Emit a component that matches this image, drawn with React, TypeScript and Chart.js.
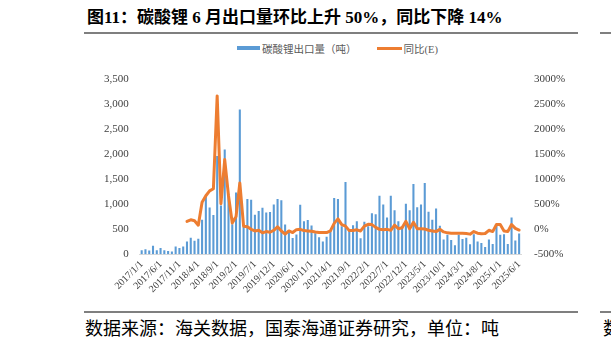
import React, { useEffect, useRef } from "react";
import { Chart, registerables } from "chart.js";

Chart.register(...registerables);

const months = [
  "2017/1/1", "2017/2/1", "2017/3/1", "2017/4/1", "2017/5/1", "2017/6/1", "2017/7/1", "2017/8/1", "2017/9/1", "2017/10/1", "2017/11/1", "2017/12/1",
  "2018/1/1", "2018/2/1", "2018/3/1", "2018/4/1", "2018/5/1", "2018/6/1", "2018/7/1", "2018/8/1", "2018/9/1", "2018/10/1", "2018/11/1", "2018/12/1",
  "2019/1/1", "2019/2/1", "2019/3/1", "2019/4/1", "2019/5/1", "2019/6/1", "2019/7/1", "2019/8/1", "2019/9/1", "2019/10/1", "2019/11/1", "2019/12/1",
  "2020/2/1", "2020/3/1", "2020/4/1", "2020/5/1", "2020/6/1", "2020/7/1", "2020/8/1", "2020/9/1", "2020/10/1", "2020/11/1", "2020/12/1",
  "2021/1/1", "2021/2/1", "2021/3/1", "2021/4/1", "2021/5/1", "2021/6/1", "2021/7/1", "2021/8/1", "2021/9/1", "2021/10/1", "2021/11/1", "2021/12/1",
  "2022/1/1", "2022/2/1", "2022/3/1", "2022/4/1", "2022/5/1", "2022/6/1", "2022/7/1", "2022/8/1", "2022/9/1", "2022/10/1", "2022/11/1", "2022/12/1",
  "2023/1/1", "2023/2/1", "2023/3/1", "2023/4/1", "2023/5/1", "2023/6/1", "2023/7/1", "2023/8/1", "2023/9/1", "2023/10/1", "2023/11/1", "2023/12/1",
  "2024/1/1", "2024/2/1", "2024/3/1", "2024/4/1", "2024/5/1", "2024/6/1", "2024/7/1", "2024/8/1", "2024/9/1", "2024/10/1", "2024/11/1", "2024/12/1",
  "2025/1/1", "2025/2/1", "2025/3/1", "2025/4/1", "2025/5/1", "2025/6/1",
];

// 碳酸锂出口量（吨）
const exportVolume = [
  83, 103, 77, 173, 83, 128, 83, 64, 58, 154, 128, 154,
  256, 333, 269, 314, 692, 1150, 936, 788, 1970, 980, 2100, 1200,
  600, 1240, 2900, 550, 1110, 1095, 790, 865, 935, 835, 845, 1000,
  1110, 1085, 595, 470, 325, 395, 995, 660, 685, 575, 420,
  340, 255, 352, 470, 1128, 1109, 560, 1450, 468, 583, 660, 320,
  650, 564, 820, 801, 1173, 1000, 737, 1173, 885, 660, 560, 1013,
  885, 1410, 942, 1000, 1430, 853, 692, 917, 570, 295, 391, 288,
  180, 391, 308, 333, 199, 404, 256, 224, 147, 295, 205, 577,
  391, 404, 205, 737, 276, 417,
];

// 同比(E), %
const yoyPct = [
  null, null, null, null, null, null, null, null, null, null, null, null,
  160, 192, 173, 83, 545, 673, 770, 814, 2673, 513, 1397, 673,
  128, 256, 929, 64, 51, 0, -32, -19, -70, -45, -58, -19,
  51, -32, -96, -32, -64, -6, 0, -25, -32, -40, -55,
  -64, -64, -64, -32, 120, 210, 95, 65, -25, -25, -10, -32,
  65, 100, 95, 40, 0, -6, 0, -19, 83, 13, 32, 160,
  13, 141, 13, 13, 6, -19, -32, -45, 0, -51, -70, -77,
  -77, -77, -77, -83, -96, -45, -77, -90, -83, -19, -45, 96,
  96, -32, -45, 96, 19, -14,
];

const titleText = "图11：碳酸锂 6 月出口量环比上升 50%，同比下降 14%";
const sourceText = "数据来源：海关数据，国泰海通证券研究，单位：吨";
const barLabel = "碳酸锂出口量（吨）";
const lineLabel = "同比(E)";

const tickFont = { family: "'Liberation Serif', 'DejaVu Serif', serif", size: 11 };

export default function App() {
  const ref = useRef<HTMLCanvasElement>(null);

  useEffect(() => {
    const chart = new Chart(ref.current as HTMLCanvasElement, {
      type: "bar",
      data: {
        labels: months,
        datasets: [
          {
            type: "line",
            label: lineLabel,
            data: yoyPct,
            yAxisID: "y1",
            borderColor: "#ED7D31",
            backgroundColor: "#ED7D31",
            borderWidth: 3,
            pointRadius: 0,
            tension: 0,
            borderJoinStyle: "round",
            borderCapStyle: "round",
            spanGaps: false,
            order: 0,
          } as any,
          {
            type: "bar",
            label: barLabel,
            data: exportVolume,
            yAxisID: "y",
            backgroundColor: "#5B9BD5",
            barPercentage: 0.55,
            categoryPercentage: 1,
            order: 1,
          } as any,
        ],
      },
      options: {
        animation: false,
        responsive: false,
        maintainAspectRatio: false,
        layout: { padding: { top: 12, left: 0, right: 0, bottom: 0 } },
        plugins: { legend: { display: false }, tooltip: { enabled: false } },
        scales: {
          x: {
            grid: { display: false, drawTicks: false },
            border: { display: true, color: "#d9d9d9", width: 1 },
            ticks: {
              autoSkip: false,
              maxRotation: 45,
              minRotation: 45,
              padding: 4,
              color: "#404040",
              font: { family: tickFont.family, size: 10 },
              callback: (_v: any, i: number) => (i % 5 === 0 ? months[i] : ""),
            },
            afterFit: (s: any) => {
              s.height = 55.7;
            },
          },
          y: {
            position: "left",
            min: 0,
            max: 3500,
            grid: { display: false, drawTicks: false },
            border: { display: false },
            ticks: {
              stepSize: 500,
              padding: 11,
              color: "#404040",
              font: tickFont,
              callback: (v: any) => Number(v).toLocaleString("en-US"),
            },
            afterFit: (s: any) => {
              s.width = 139.8;
            },
          },
          y1: {
            position: "right",
            min: -500,
            max: 3000,
            grid: { display: false, drawTicks: false },
            border: { display: false },
            ticks: {
              stepSize: 500,
              padding: 13,
              color: "#404040",
              font: tickFont,
              callback: (v: any) => v + "%",
            },
            afterFit: (s: any) => {
              s.width = 90;
            },
          },
        },
      } as any,
    });
    return () => chart.destroy();
  }, []);

  const cjk = "'Liberation Serif', 'Noto Sans CJK SC', serif";

  return (
    <div
      style={{
        position: "fixed",
        left: 0,
        top: 0,
        width: 611,
        height: 344,
        overflow: "hidden",
        background: "#fff",
      }}
    >
      <div
        style={{
          position: "absolute",
          left: 87,
          top: 7,
          height: 22,
          lineHeight: "22px",
          fontSize: 17,
          fontWeight: "bold",
          fontFamily: cjk,
          color: "#000",
          whiteSpace: "nowrap",
        }}
      >
        {titleText}
      </div>
      <div style={{ position: "absolute", left: 84, top: 32, width: 494, height: 2, background: "#7f7f7f" }} />
      <div style={{ position: "absolute", left: 600, top: 32, width: 11, height: 2, background: "#7f7f7f" }} />

      <div
        style={{
          position: "absolute",
          left: 237,
          top: 40,
          height: 16,
          display: "flex",
          alignItems: "center",
          fontFamily: cjk,
          fontSize: 10.5,
          color: "#595959",
          whiteSpace: "nowrap",
        }}
      >
        <span style={{ display: "inline-block", width: 23, height: 4, background: "#5B9BD5", marginRight: 2 }} />
        <span>{barLabel}</span>
        <span style={{ display: "inline-block", width: 25, height: 3, background: "#ED7D31", marginLeft: 20, marginRight: 2 }} />
        <span>{lineLabel}</span>
      </div>

      <canvas
        ref={ref}
        width={611}
        height={250}
        style={{ position: "absolute", left: 0, top: 60, width: 611, height: 250, display: "block" }}
      />

      <div style={{ position: "absolute", left: 84, top: 311, width: 494, height: 2, background: "#7f7f7f" }} />
      <div style={{ position: "absolute", left: 600, top: 311, width: 11, height: 2, background: "#7f7f7f" }} />
      <div
        style={{
          position: "absolute",
          left: 85,
          top: 316,
          height: 22,
          lineHeight: "22px",
          fontSize: 18,
          fontFamily: "'Noto Sans CJK SC', sans-serif",
          color: "#000",
          whiteSpace: "nowrap",
        }}
      >
        {sourceText}
      </div>
      <div
        style={{
          position: "absolute",
          left: 603,
          top: 316,
          height: 22,
          lineHeight: "22px",
          fontSize: 18,
          fontFamily: "'Noto Sans CJK SC', sans-serif",
          color: "#000",
          whiteSpace: "nowrap",
        }}
      >
        数
      </div>
    </div>
  );
}
